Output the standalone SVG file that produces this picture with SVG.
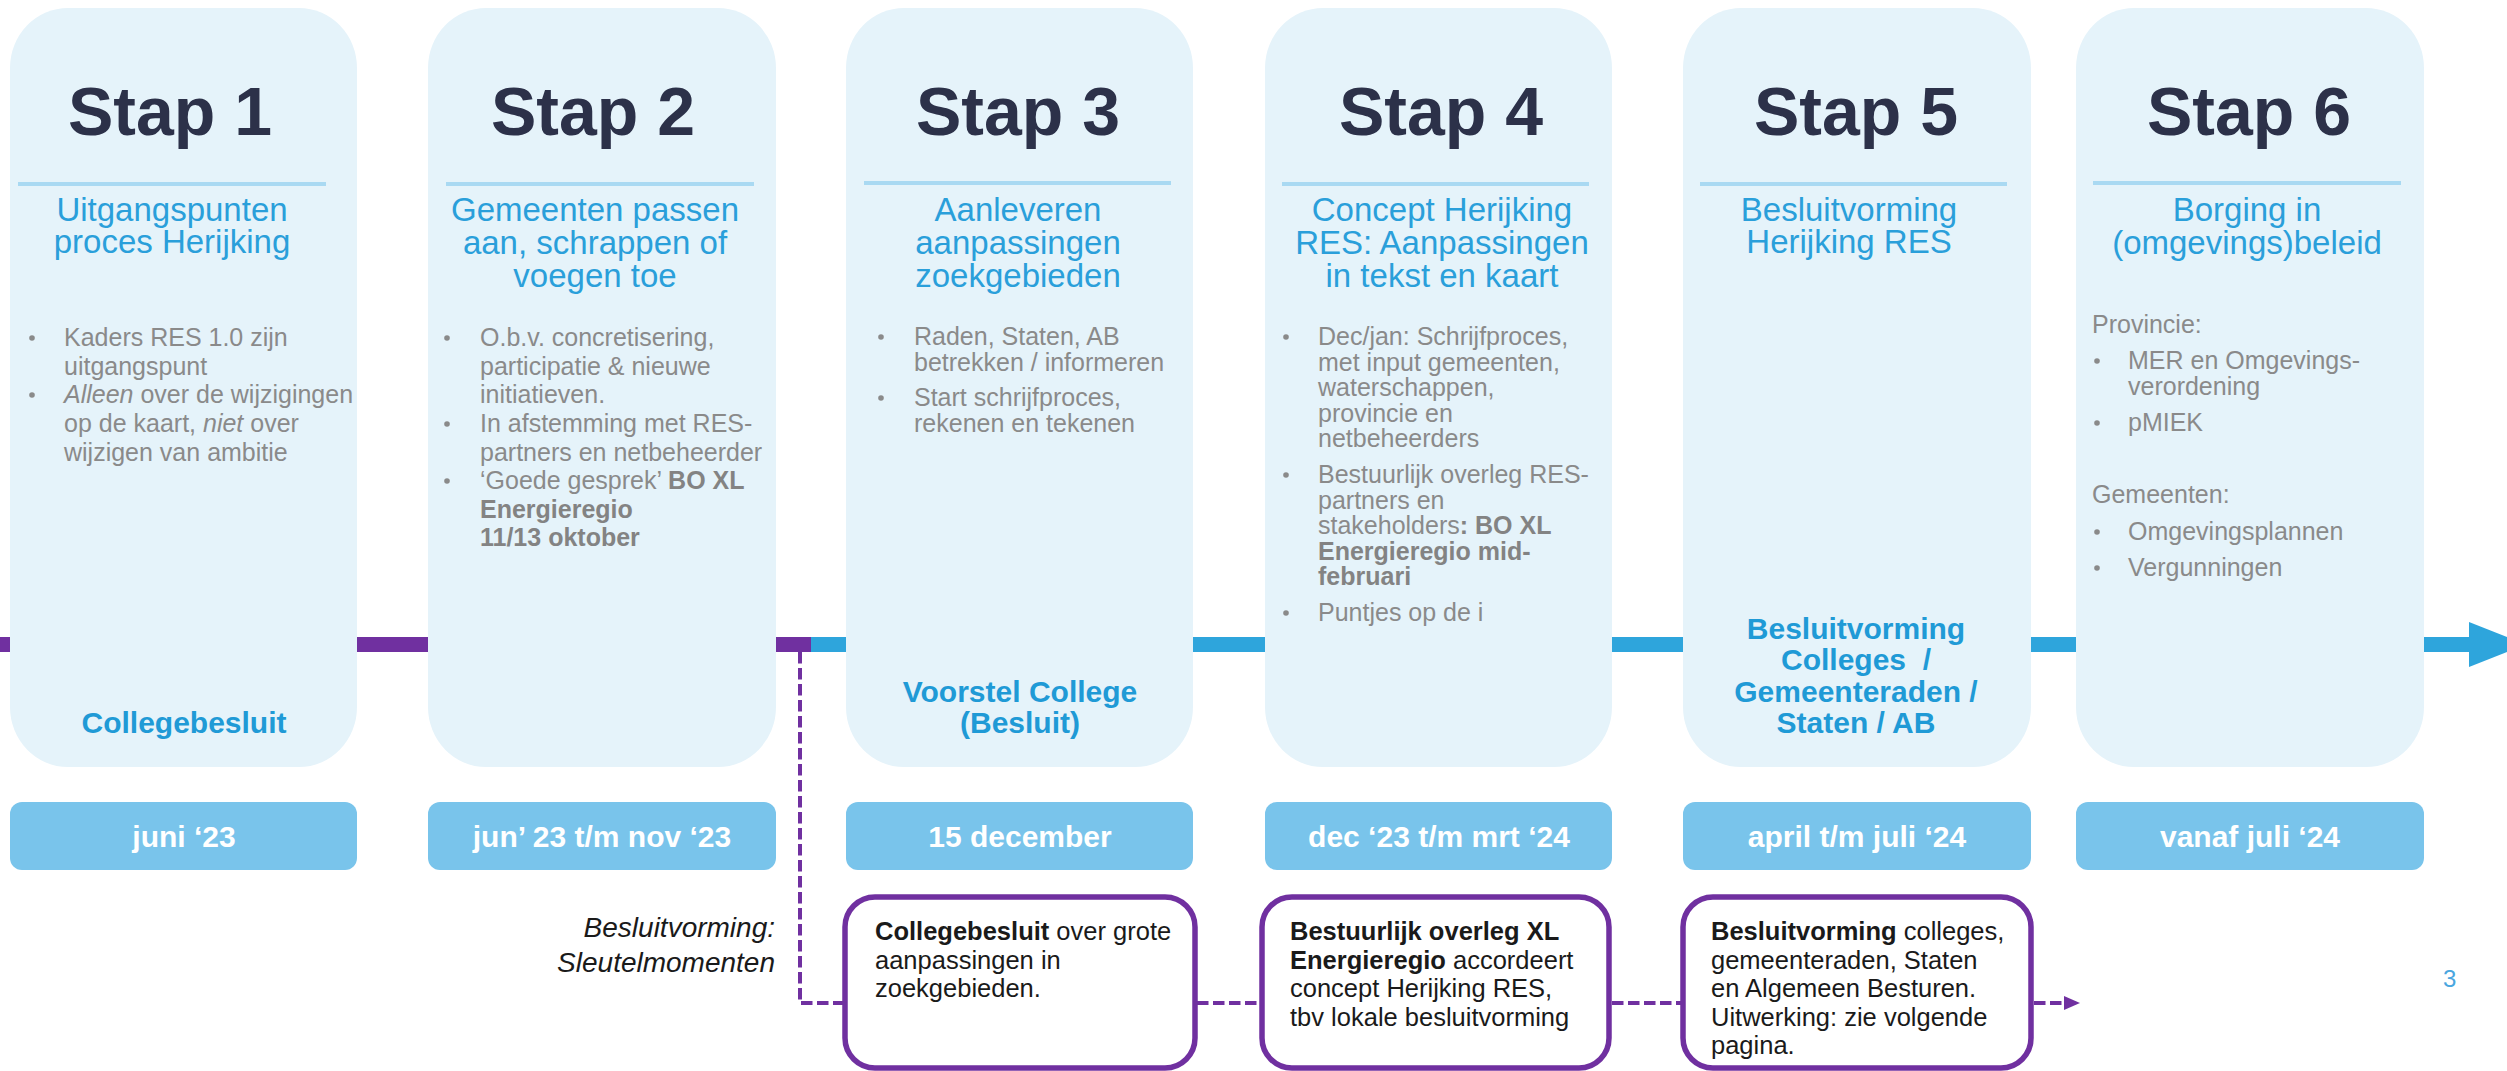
<svg xmlns="http://www.w3.org/2000/svg" width="2507" height="1071" viewBox="0 0 2507 1071">
<style>
text{font-family:"Liberation Sans",Arial,sans-serif}
.card{fill:#e5f3fa}
.date{fill:#79c4eb}
.key{fill:#fff;stroke:#7030a0;stroke-width:5.5}
.div{stroke:#a9d9f2;stroke-width:4}
.stap{font-weight:bold;font-size:68px;fill:#2c3149;text-anchor:middle}
.sub{font-size:33px;fill:#2a9fda;text-anchor:middle}
.body{font-size:25px;fill:#8a8a8a}
.b{font-weight:bold;fill:#838383}
.i{font-style:italic}
.lbl{font-weight:bold;font-size:30px;fill:#1f9ad6;text-anchor:middle}
.dt{font-weight:bold;font-size:30px;fill:#fff;text-anchor:middle}
.kt{font-size:25.5px;fill:#1a1a1a}
.kb{font-weight:bold}
.side{font-size:28px;fill:#1a1a1a;font-style:italic;text-anchor:end}
.dot{fill:#8a8a8a}
.dash{fill:none;stroke:#7030a0;stroke-width:4;stroke-dasharray:11.5 4.5}
</style>
<defs>
<marker id="ah" markerWidth="16" markerHeight="14" refX="1" refY="7" orient="auto" markerUnits="userSpaceOnUse">
<path d="M0,0 L16,7 L0,14 Z" fill="#7030a0"/>
</marker>
</defs>

<g id="timeline">
<rect x="0" y="637" width="811" height="15" fill="#7030a0"/>
<rect x="811" y="637" width="1659" height="15" fill="#2ea5dc"/>
<polygon points="2469,622 2526,644.5 2469,667" fill="#2ea5dc"/>
</g>

<g id="stap1">
<rect class="card" x="10" y="8" width="347" height="759" rx="58" ry="60"/>
<text class="stap" x="170" y="135">Stap 1</text>
<line class="div" x1="18" y1="184" x2="326" y2="184"/>
<text class="sub" x="172" y="221">Uitgangspunten</text>
<text class="sub" x="172" y="253">proces Herijking</text>
<circle class="dot" cx="32" cy="338" r="2.8"/>
<circle class="dot" cx="32" cy="395" r="2.8"/>
<text class="body" x="64" y="346">Kaders RES 1.0 zijn</text>
<text class="body" x="64" y="374.6">uitgangspunt</text>
<text class="body" x="64" y="403"><tspan class="i">Alleen</tspan> over de wijzigingen</text>
<text class="body" x="64" y="432">op de kaart, <tspan class="i">niet</tspan> over</text>
<text class="body" x="64" y="460.6">wijzigen van ambitie</text>
<text class="lbl" x="184" y="733">Collegebesluit</text>
</g>

<g id="stap2">
<rect class="card" x="428" y="8" width="348" height="759" rx="58" ry="60"/>
<text class="stap" x="593" y="135">Stap 2</text>
<line class="div" x1="446" y1="184" x2="754" y2="184"/>
<text class="sub" x="595" y="221">Gemeenten passen</text>
<text class="sub" x="595" y="254">aan, schrappen of</text>
<text class="sub" x="595" y="287">voegen toe</text>
<circle class="dot" cx="447" cy="338" r="2.8"/>
<circle class="dot" cx="447" cy="424" r="2.8"/>
<circle class="dot" cx="447" cy="481" r="2.8"/>
<text class="body" x="480" y="346">O.b.v. concretisering,</text>
<text class="body" x="480" y="374.6">participatie &amp; nieuwe</text>
<text class="body" x="480" y="403">initiatieven.</text>
<text class="body" x="480" y="432">In afstemming met RES-</text>
<text class="body" x="480" y="460.6">partners en netbeheerder</text>
<text class="body" x="480" y="489">‘Goede gesprek’ <tspan class="b">BO XL</tspan></text>
<text class="body b" x="480" y="518">Energieregio</text>
<text class="body b" x="480" y="546">11/13 oktober</text>
</g>

<g id="stap3">
<rect class="card" x="846" y="8" width="347" height="759" rx="58" ry="60"/>
<text class="stap" x="1018" y="135">Stap 3</text>
<line class="div" x1="864" y1="183" x2="1171" y2="183"/>
<text class="sub" x="1018" y="221">Aanleveren</text>
<text class="sub" x="1018" y="254">aanpassingen</text>
<text class="sub" x="1018" y="287">zoekgebieden</text>
<circle class="dot" cx="881" cy="337" r="2.8"/>
<circle class="dot" cx="881" cy="398" r="2.8"/>
<text class="body" x="914" y="345">Raden, Staten, AB</text>
<text class="body" x="914" y="370.5">betrekken / informeren</text>
<text class="body" x="914" y="406">Start schrijfproces,</text>
<text class="body" x="914" y="431.5">rekenen en tekenen</text>
<text class="lbl" x="1020" y="702">Voorstel College</text>
<text class="lbl" x="1020" y="733">(Besluit)</text>
</g>

<g id="stap4">
<rect class="card" x="1265" y="8" width="347" height="759" rx="58" ry="60"/>
<text class="stap" x="1441" y="135">Stap 4</text>
<line class="div" x1="1282" y1="184" x2="1589" y2="184"/>
<text class="sub" x="1442" y="221">Concept Herijking</text>
<text class="sub" x="1442" y="254">RES: Aanpassingen</text>
<text class="sub" x="1442" y="287">in tekst en kaart</text>
<circle class="dot" cx="1286" cy="337" r="2.8"/>
<circle class="dot" cx="1286" cy="475" r="2.8"/>
<circle class="dot" cx="1286" cy="613" r="2.8"/>
<text class="body" x="1318" y="345">Dec/jan: Schrijfproces,</text>
<text class="body" x="1318" y="370.6">met input gemeenten,</text>
<text class="body" x="1318" y="396.2">waterschappen,</text>
<text class="body" x="1318" y="421.8">provincie en</text>
<text class="body" x="1318" y="447.4">netbeheerders</text>
<text class="body" x="1318" y="483">Bestuurlijk overleg RES-</text>
<text class="body" x="1318" y="508.6">partners en</text>
<text class="body" x="1318" y="534.2">stakeholders<tspan class="b">: BO XL</tspan></text>
<text class="body b" x="1318" y="559.8">Energieregio mid-</text>
<text class="body b" x="1318" y="585.4">februari</text>
<text class="body" x="1318" y="621">Puntjes op de i</text>
</g>

<g id="stap5">
<rect class="card" x="1683" y="8" width="348" height="759" rx="58" ry="60"/>
<text class="stap" x="1856" y="135">Stap 5</text>
<line class="div" x1="1700" y1="184" x2="2007" y2="184"/>
<text class="sub" x="1849" y="221">Besluitvorming</text>
<text class="sub" x="1849" y="253">Herijking RES</text>
<text class="lbl" x="1856" y="639">Besluitvorming</text>
<text class="lbl" x="1856" y="670">Colleges&#160; /</text>
<text class="lbl" x="1856" y="702">Gemeenteraden /</text>
<text class="lbl" x="1856" y="733">Staten / AB</text>
</g>

<g id="stap6">
<rect class="card" x="2076" y="8" width="348" height="759" rx="58" ry="60"/>
<text class="stap" x="2249" y="135">Stap 6</text>
<line class="div" x1="2093" y1="183" x2="2401" y2="183"/>
<text class="sub" x="2247" y="221">Borging in</text>
<text class="sub" x="2247" y="254">(omgevings)beleid</text>
<text class="body" x="2092" y="333">Provincie:</text>
<circle class="dot" cx="2097" cy="361" r="2.8"/>
<circle class="dot" cx="2097" cy="423" r="2.8"/>
<text class="body" x="2128" y="369">MER en Omgevings-</text>
<text class="body" x="2128" y="395">verordening</text>
<text class="body" x="2128" y="431">pMIEK</text>
<text class="body" x="2092" y="503">Gemeenten:</text>
<circle class="dot" cx="2097" cy="532" r="2.8"/>
<circle class="dot" cx="2097" cy="568" r="2.8"/>
<text class="body" x="2128" y="540">Omgevingsplannen</text>
<text class="body" x="2128" y="576">Vergunningen</text>
</g>

<g id="dates">
<rect class="date" x="10" y="802" width="347" height="68" rx="12"/>
<text class="dt" x="184" y="847">juni ‘23</text>
<rect class="date" x="428" y="802" width="348" height="68" rx="12"/>
<text class="dt" x="602" y="847">jun’ 23 t/m nov ‘23</text>
<rect class="date" x="846" y="802" width="347" height="68" rx="12"/>
<text class="dt" x="1020" y="847">15 december</text>
<rect class="date" x="1265" y="802" width="347" height="68" rx="12"/>
<text class="dt" x="1439" y="847">dec ‘23 t/m mrt ‘24</text>
<rect class="date" x="1683" y="802" width="348" height="68" rx="12"/>
<text class="dt" x="1857" y="847">april t/m juli ‘24</text>
<rect class="date" x="2076" y="802" width="348" height="68" rx="12"/>
<text class="dt" x="2250" y="847">vanaf juli ‘24</text>
</g>

<g id="connectors">
<path class="dash" d="M800,652 V1003 H843"/>
<path class="dash" d="M1197,1003 H1260"/>
<path class="dash" d="M1612,1003 H1681"/>
<path class="dash" d="M2034,1003 H2065" marker-end="url(#ah)"/>
</g>

<g id="sleutel-label">
<text class="side" x="775" y="937">Besluitvorming:</text>
<text class="side" x="775" y="972">Sleutelmomenten</text>
</g>

<g id="key1">
<rect class="key" x="845" y="897" width="350" height="171" rx="30"/>
<text class="kt" x="875" y="940"><tspan class="kb">Collegebesluit</tspan> over grote</text>
<text class="kt" x="875" y="968.5">aanpassingen in</text>
<text class="kt" x="875" y="997">zoekgebieden.</text>
</g>

<g id="key2">
<rect class="key" x="1262" y="897" width="347" height="171" rx="30"/>
<text class="kt kb" x="1290" y="940">Bestuurlijk overleg XL</text>
<text class="kt" x="1290" y="968.5"><tspan class="kb">Energieregio</tspan> accordeert</text>
<text class="kt" x="1290" y="997">concept Herijking RES,</text>
<text class="kt" x="1290" y="1025.5">tbv lokale besluitvorming</text>
</g>

<g id="key3">
<rect class="key" x="1683" y="897" width="348" height="171" rx="30"/>
<text class="kt" x="1711" y="940"><tspan class="kb">Besluitvorming</tspan> colleges,</text>
<text class="kt" x="1711" y="968.5">gemeenteraden, Staten</text>
<text class="kt" x="1711" y="997">en Algemeen Besturen.</text>
<text class="kt" x="1711" y="1025.5">Uitwerking: zie volgende</text>
<text class="kt" x="1711" y="1054">pagina.</text>
</g>

<text x="2443" y="987" font-size="24" fill="#4aa6df">3</text>
</svg>
